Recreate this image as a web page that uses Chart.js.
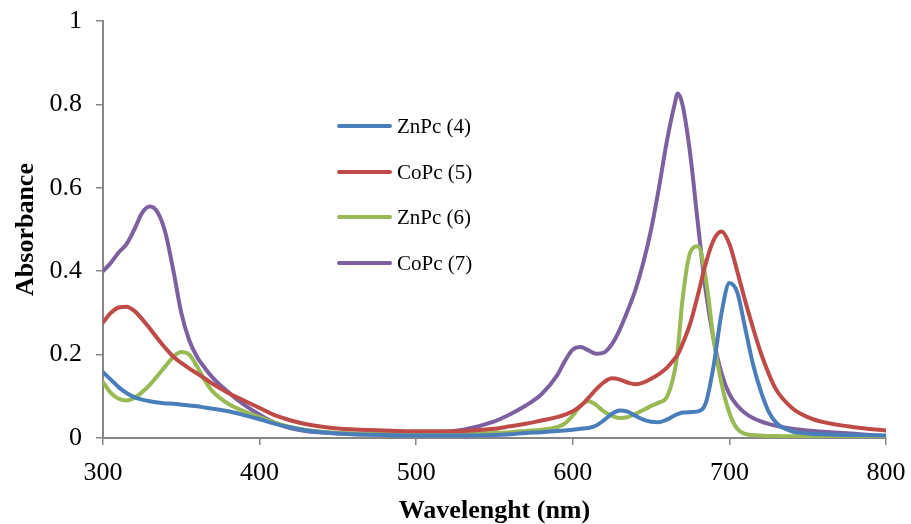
<!DOCTYPE html>
<html>
<head>
<meta charset="utf-8">
<script src="https://cdn.jsdelivr.net/npm/chart.js@4"></script>
<style>
  html, body { margin: 0; padding: 0; background: #fff; }
  #wrap { position: relative; width: 911px; height: 524px; }
  #legend { position: absolute; left: 0; top: 0; font-family: "Liberation Serif", "Times New Roman", serif; font-size: 21px; color: #000; }
  .item { position: absolute; left: 337px; height: 24px; display: flex; align-items: center; white-space: nowrap; }
  .swatch { width: 55px; height: 4px; border-radius: 2px; margin-right: 5px; }
</style>
</head>
<body>
<div id="wrap">
  <canvas id="c" width="911" height="524"></canvas>
  <div id="legend"></div>
</div>
<script>
const wavelengths = [300,305,310,315,320,325,330,335,340,345,350,355,360,365,370,
  380,390,400,410,420,430,440,450,
  470,500,530,550,560,570,580,590,
  595,600,605,610,615,620,625,630,635,640,645,650,655,660,665,
  667,
  670,675,680,685,690,695,700,705,710,715,720,725,730,
  740,750,760,780,800];

const seriesNames = ["ZnPc (4)", "CoPc (5)", "ZnPc (6)", "CoPc (7)"];

const znpc4 = [.158,.14,.122,.108,.098,.092,.088,.085,.083,.082,.08,.078,.076,.073,.07,
  .064,.055,.045,.034,.025,.018,.014,.011,
  .008,.006,.006,.007,.009,.012,.014,.017,
  .018,.02,.022,.024,.03,.043,.058,.066,.063,.053,.044,.039,.038,.044,.054,
  .057,
  .061,.062,.064,.085,.175,.3,.372,.35,.265,.178,.113,.064,.036,
  .016,.011,.009,.007,.006];

const copc5 = [.277,.30,.313,.315,.305,.285,.262,.238,.215,.195,.18,.167,.155,.143,.13,
  .108,.09,.072,.054,.042,.033,.027,.023,
  .019,.016,.017,.022,.028,.034,.042,.05,
  .056,.064,.077,.096,.117,.134,.143,.14,.133,.129,.133,.142,.153,.168,.19,
  .2,
  .225,.275,.345,.42,.475,.495,.465,.4,.33,.265,.205,.155,.115,
  .072,.05,.038,.026,.018];

const znpc6 = [.134,.108,.094,.09,.096,.11,.128,.15,.173,.195,.206,.2,.172,.138,.112,
  .082,.064,.05,.036,.026,.019,.015,.012,
  .01,.01,.01,.012,.014,.017,.02,.026,
  .035,.054,.078,.088,.079,.063,.053,.048,.05,.058,.067,.077,.085,.098,.16,
  .21,
  .33,.445,.46,.38,.235,.13,.06,.022,.01,.007,.006,.005,.005,
  .004,.004,.004,.003,.003];

const copc7 = [.40,.42,.445,.465,.5,.54,.555,.54,.49,.4,.3,.235,.195,.168,.145,
  .11,.08,.056,.036,.023,.016,.013,.011,
  .009,.011,.02,.04,.057,.078,.105,.15,
  .185,.212,.218,.21,.202,.205,.225,.26,.305,.355,.42,.5,.6,.71,.8,
  .826,
  .8,.68,.51,.35,.235,.155,.105,.078,.06,.048,.04,.034,.029,
  .022,.018,.015,.01,.004];

const xTicks = [300,400,500,600,700,800];
const yTicks = [0,0.2,0.4,0.6,0.8,1];
const colors = ["#4A7EBB", "#BE4B48", "#98B954", "#7D60A0"];

const values = [znpc4, copc5, znpc6, copc7];
const datasets = values.map((arr, i) => ({
  label: seriesNames[i],
  data: wavelengths.map((w, k) => ({x: w, y: arr[k]})),
  borderColor: colors[i],
  backgroundColor: colors[i],
  borderWidth: 4,
  pointRadius: 0,
  fill: false,
  tension: 0.4,
  cubicInterpolationMode: 'monotone',
  borderCapStyle: 'round',
  borderJoinStyle: 'round'
}));

const axisColor = '#868686';
const fontFam = '"Liberation Serif", "Times New Roman", serif';

new Chart(document.getElementById('c'), {
  type: 'line',
  data: { datasets },
  options: {
    responsive: false,
    animation: false,
    layout: { padding: { left: 0, right: 25, top: 21, bottom: 0 } },
    plugins: { legend: { display: false }, tooltip: { enabled: false } },
    scales: {
      x: {
        type: 'linear',
        min: 300, max: 800,
        afterFit: s => { s.height = 86; s.paddingLeft = 0; s.paddingRight = 0; },
        afterBuildTicks: s => { s.ticks = xTicks.map(v => ({value: v})); },
        grid: { drawOnChartArea: false, drawTicks: true, tickLength: 7, color: axisColor, lineWidth: 1.5 },
        border: { color: axisColor, width: 2 },
        ticks: { color: '#000', font: { family: fontFam, size: 26 }, padding: 13, maxRotation: 0,
                 callback: v => String(v) },
        title: { display: true, text: 'Wavelenght (nm)', color: '#000',
                 font: { family: fontFam, size: 26, weight: 'bold' }, padding: { top: 0, bottom: -3 } }
      },
      y: {
        type: 'linear',
        min: 0, max: 1,
        afterFit: s => { s.width = 103; s.paddingTop = 0; s.paddingBottom = 0; },
        afterBuildTicks: s => { s.ticks = yTicks.map(v => ({value: v})); },
        grid: { drawOnChartArea: false, drawTicks: true, tickLength: 7, color: axisColor, lineWidth: 1.5 },
        border: { color: axisColor, width: 2 },
        ticks: { color: '#000', font: { family: fontFam, size: 26 }, padding: 14,
                 callback: v => String(Math.round(v * 10) / 10) },
        title: { display: true, text: 'Absorbance', color: '#000',
                 font: { family: fontFam, size: 26, weight: 'bold' }, padding: { top: 11, bottom: 0 } }
      }
    }
  }
});

// legend (HTML text)
const legendTops = [126, 172, 217, 263];
const legendEl = document.getElementById('legend');
seriesNames.forEach((name, i) => {
  const item = document.createElement('div');
  item.className = 'item';
  item.style.top = (legendTops[i] - 12) + 'px';
  const sw = document.createElement('div');
  sw.className = 'swatch';
  sw.style.background = colors[i];
  const tx = document.createElement('span');
  tx.textContent = name;
  item.appendChild(sw);
  item.appendChild(tx);
  legendEl.appendChild(item);
});
</script>
</body>
</html>
